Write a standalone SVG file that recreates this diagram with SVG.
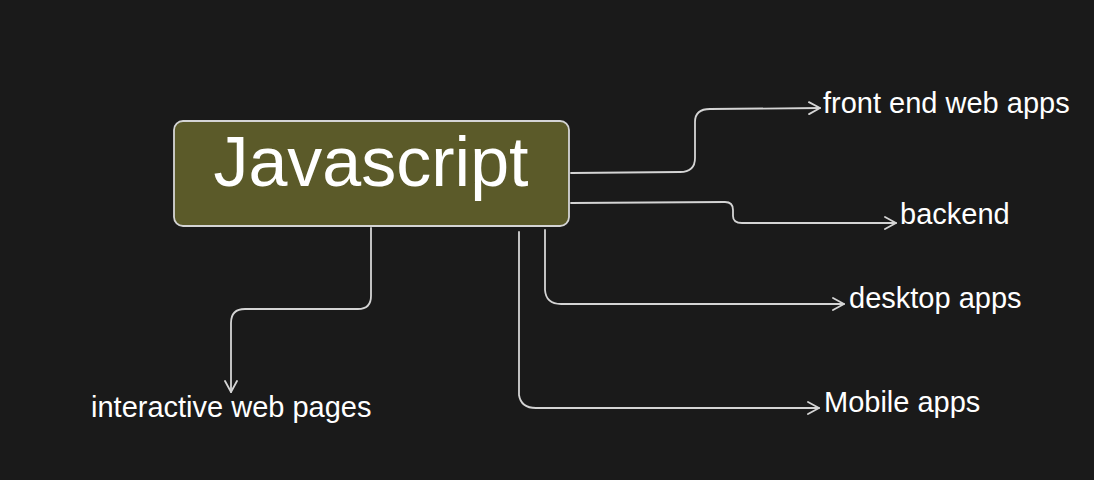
<svg xmlns="http://www.w3.org/2000/svg" width="1094" height="480" viewBox="0 0 1094 480">
<style>
.bg{fill:#1a1a1a}
.node{fill:#5b5a29;stroke:#d4d4d4;stroke-width:1.8}
.title{font-family:"Liberation Sans",Arial,sans-serif;font-size:70px;fill:#ffffff}
.lbl{font-family:"Liberation Sans",Arial,sans-serif;font-size:29px;fill:#ffffff}
.edge{fill:none;stroke:#d4d4d4;stroke-width:1.8;stroke-linecap:round;stroke-linejoin:round}
</style>
<defs>
<marker id="arr" markerUnits="userSpaceOnUse" markerWidth="16" markerHeight="16" refX="12" refY="7" orient="auto" viewBox="0 0 16 14">
<path d="M1,1 L12,7 L1,13" fill="none" stroke="#d4d4d4" stroke-width="1.8" stroke-linecap="round" stroke-linejoin="round"/>
</marker>
</defs>
<rect class="bg" x="0" y="0" width="1094" height="480"/>
<g id="connectors">
<path class="edge" marker-end="url(#arr)" d="M571,173 L680,172 Q695,172 695,158 L695,122 Q695,109 710,109 L820,108"/>
<path class="edge" marker-end="url(#arr)" d="M571,203 L725,202 Q733,202 733,210 L733,216 Q733,223 742,223 L896,223"/>
<path class="edge" marker-end="url(#arr)" d="M545,230 L545,290 Q546,304 561,304 L844,304"/>
<path class="edge" marker-end="url(#arr)" d="M519,232 L519,395 Q521,408 536,408 L819,408"/>
<path class="edge" marker-end="url(#arr)" d="M371,228 L371,296 Q371,309 358,309 L245,309 Q231,309 231,323 L231,392"/>
</g>
<g id="node-javascript">
<rect class="node" x="174" y="121" width="395" height="105" rx="9"/>
<text class="title" x="371" y="186" text-anchor="middle">Javascript</text>
</g>
<g id="node-frontend"><text class="lbl" x="823" y="113">front end web apps</text></g>
<g id="node-backend"><text class="lbl" x="900" y="224">backend</text></g>
<g id="node-desktop"><text class="lbl" x="849" y="308">desktop apps</text></g>
<g id="node-mobile"><text class="lbl" x="824" y="412">Mobile apps</text></g>
<g id="node-interactive"><text class="lbl" x="91" y="417">interactive web pages</text></g>
</svg>
